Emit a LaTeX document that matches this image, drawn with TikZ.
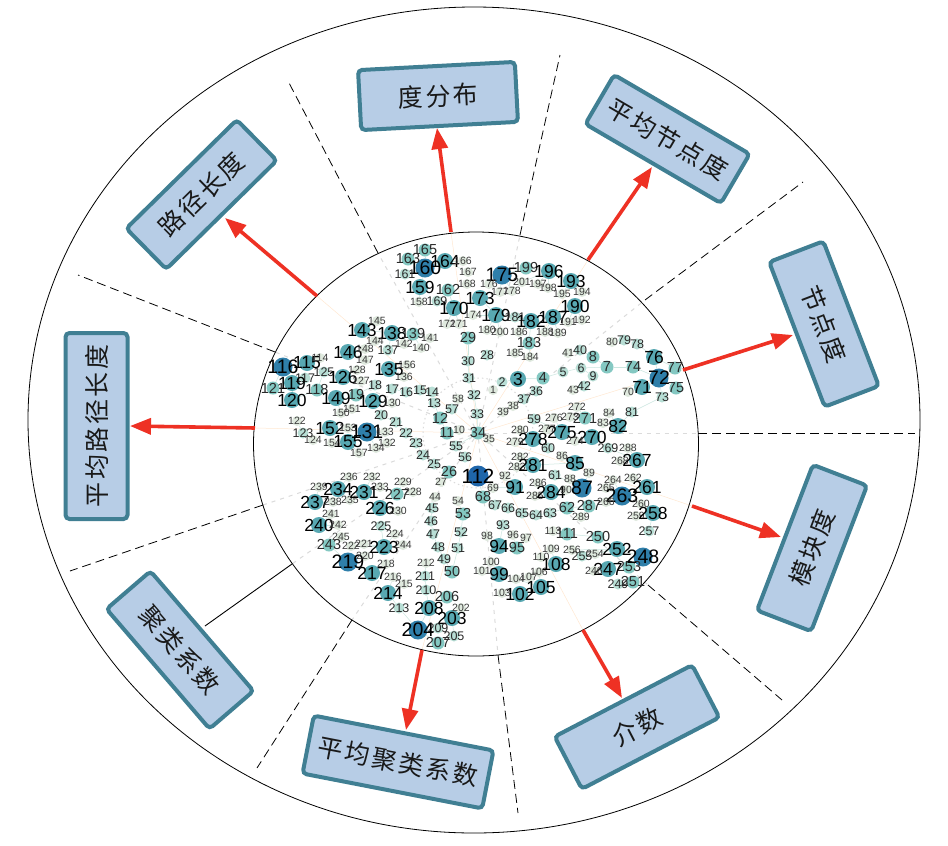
\documentclass[tikz,border=0pt]{standalone}
\usepackage{fontspec}
\setmainfont{Liberation Sans}
\newfontfamily\cjkf[LetterSpace=10]{Noto Sans CJK SC}
\usetikzlibrary{shapes.geometric,arrows.meta}
\pgfdeclarelayer{bgl}\pgfsetlayers{bgl,main}
\definecolor{boxfill}{HTML}{B7CDE6}
\definecolor{boxline}{HTML}{407F93}
\definecolor{redarrow}{HTML}{EE3124}
\definecolor{cA}{HTML}{DFE9DE}
\definecolor{cB}{HTML}{B8DED5}
\definecolor{cC}{HTML}{84C8C2}
\definecolor{cD}{HTML}{58A8B2}
\definecolor{cE}{HTML}{2F7FAA}
\definecolor{cF}{HTML}{1F66AA}
\definecolor{tA}{HTML}{3A3A3A}
\definecolor{tB}{HTML}{2A2A2A}
\tikzset{
 cirA/.style={circle,inner sep=0,minimum size=10pt,fill=cA},
 cirB/.style={circle,inner sep=0,minimum size=11pt,fill=cB},
 cirC/.style={circle,inner sep=0,minimum size=13pt,fill=cC},
 cirD/.style={circle,inner sep=0,minimum size=16pt,fill=cD},
 cirE/.style={circle,inner sep=0,minimum size=19pt,fill=cE},
 cirF/.style={circle,inner sep=0,minimum size=21pt,fill=cF},
 txtA/.style={inner sep=0,text=tA,font=\fontsize{10.5}{11}\selectfont},
 txtB/.style={inner sep=0,text=tB,font=\fontsize{12.5}{13}\selectfont},
 txtC/.style={inner sep=0,text=tB,font=\fontsize{14.5}{15}\selectfont},
 txtD/.style={inner sep=0,text=black,font=\fontsize{17.5}{18}\selectfont},
 txtE/.style={inner sep=0,text=black,font=\fontsize{19.5}{20}\selectfont},
 txtF/.style={inner sep=0,text=black,font=\fontsize{20.5}{21}\selectfont},
 mbox/.style={draw=boxline,fill=boxfill,line width=4pt,rounded corners=4pt,inner sep=0,font=\cjkf\fontsize{25}{26}\selectfont,text=black!90},
 ring/.style={ellipse,draw=black,line width=0.8pt,inner sep=0},
 sep/.style={draw=black,line width=0.8pt,dash pattern=on 9pt off 5pt},
 rarr/.style={draw=redarrow,line width=3.6pt,-{Triangle[length=21pt,width=16pt]},redarrow},
 lnk/.style={draw=cB!75!white,line width=0.5pt},
 faintdash/.style={draw=black!14,line width=1pt,dash pattern=on 4pt off 5pt},
 faintor/.style={draw=orange!18,line width=0.5pt},
 faintdot/.style={draw=black!14,line width=1pt,dash pattern=on 1.5pt off 3pt},
}
\newcommand{\allnodes}{%
\gnode{165}{425}{250}{C}\gnode{163}{408}{259}{C}\gnode{160}{425}{268}{E}\gnode{164}{445}{261}{D}\gnode{166}{463}{261}{A}
\gnode{161}{405}{274}{B}\gnode{167}{468}{272}{A}\gnode{168}{467}{284}{A}\gnode{159}{420}{287}{D}\gnode{162}{448}{290}{C}
\gnode{158}{419}{302}{A}\gnode{169}{437}{301}{B}\gnode{170}{454}{308}{D}\gnode{173}{480}{298}{D}\gnode{174}{473}{315}{A}
\gnode{172}{447}{324}{A}\gnode{171}{459}{324}{A}\gnode{29}{468}{338}{C}\gnode{145}{377}{321}{A}\gnode{143}{362}{330}{D}
\gnode{138}{392}{333}{D}\gnode{139}{413}{334}{C}\gnode{141}{430}{338}{A}\gnode{144}{375}{341}{A}\gnode{142}{404}{344}{A}
\gnode{137}{388}{350}{B}\gnode{140}{421}{348}{A}\gnode{146}{348}{352}{D}\gnode{148}{365}{349}{A}\gnode{147}{365}{360}{A}
\gnode{116}{283}{367}{E}\gnode{115}{307}{363}{D}\gnode{114}{320}{358}{A}\gnode{125}{324}{372}{B}\gnode{117}{305}{378}{B}
\gnode{119}{292}{383}{D}\gnode{121}{273}{388}{C}\gnode{118}{317}{390}{C}\gnode{120}{292}{400}{D}\gnode{126}{343}{377}{D}
\gnode{128}{357}{370}{A}\gnode{127}{361}{381}{A}\gnode{135}{389}{369}{D}\gnode{156}{407}{365}{A}\gnode{136}{404}{377}{A}
\gnode{149}{336}{398}{D}\gnode{19}{356}{395}{C}\gnode{129}{373}{401}{D}\gnode{18}{375}{385}{B}\gnode{17}{392}{389}{B}
\gnode{16}{406}{392}{B}\gnode{15}{420}{390}{B}\gnode{14}{432}{392}{B}\gnode{130}{392}{403}{A}\gnode{20}{381}{415}{B}
\gnode{13}{434}{403}{B}\gnode{58}{458}{399}{A}\gnode{57}{452}{409}{B}\gnode{12}{440}{418}{C}\gnode{122}{297}{421}{A}
\gnode{123}{303}{433}{B}\gnode{124}{313}{440}{A}\gnode{151}{352}{409}{A}\gnode{150}{341}{413}{A}\gnode{21}{396}{422}{B}
\gnode{22}{406}{433}{B}\gnode{152}{330}{428}{D}\gnode{153}{348}{428}{A}\gnode{131}{367}{432}{E}\gnode{133}{385}{432}{A}
\gnode{132}{387}{443}{A}\gnode{11}{447}{433}{C}\gnode{10}{459}{430}{A}\gnode{23}{416}{443}{B}\gnode{154}{332}{443}{A}
\gnode{155}{348}{442}{D}\gnode{157}{359}{453}{A}\gnode{134}{376}{448}{A}\gnode{24}{423}{455}{B}\gnode{25}{434}{464}{B}
\gnode{26}{449}{472}{C}\gnode{27}{441}{482}{A}\gnode{55}{456}{446}{B}\gnode{56}{465}{457}{B}\gnode{34}{478}{433}{C}
\gnode{33}{477}{414}{B}\gnode{32}{474}{395}{B}\gnode{31}{469}{378}{B}\gnode{30}{468}{361}{B}\gnode{35}{489}{439}{A}
\gnode{1}{493}{390}{A}\gnode{2}{502}{382}{B}\gnode{3}{518}{379}{D}\gnode{4}{543}{378}{C}\gnode{5}{563}{372}{B}
\gnode{6}{581}{368}{B}\gnode{7}{607}{367}{C}\gnode{8}{593}{357}{C}\gnode{9}{593}{376}{B}\gnode{41}{568}{353}{A}
\gnode{40}{580}{350}{B}\gnode{43}{573}{390}{A}\gnode{42}{584}{386}{B}\gnode{28}{487}{355}{B}\gnode{36}{536}{391}{B}
\gnode{37}{524}{399}{B}\gnode{38}{513}{406}{A}\gnode{39}{503}{412}{A}\gnode{59}{534}{419}{B}\gnode{276}{554}{418}{A}
\gnode{273}{570}{417}{A}\gnode{271}{585}{418}{C}\gnode{272}{577}{407}{A}\gnode{84}{609}{413}{A}\gnode{83}{603}{423}{A}
\gnode{82}{618}{426}{D}\gnode{81}{632}{412}{B}\gnode{70}{628}{392}{A}\gnode{71}{642}{387}{D}\gnode{72}{659}{378}{E}
\gnode{73}{662}{397}{B}\gnode{74}{633}{367}{C}\gnode{75}{676}{388}{C}\gnode{76}{654}{357}{D}\gnode{77}{675}{368}{C}
\gnode{78}{637}{344}{B}\gnode{79}{624}{340}{B}\gnode{80}{612}{342}{A}\gnode{175}{502}{275}{E}\gnode{176}{489}{284}{A}
\gnode{177}{500}{292}{A}\gnode{178}{512}{291}{A}\gnode{199}{526}{268}{C}\gnode{196}{549}{271}{D}\gnode{201}{522}{282}{A}
\gnode{197}{538}{284}{A}\gnode{198}{548}{288}{A}\gnode{193}{571}{281}{D}\gnode{195}{562}{294}{A}\gnode{194}{582}{292}{A}
\gnode{190}{575}{306}{D}\gnode{179}{496}{315}{D}\gnode{181}{515}{317}{B}\gnode{182}{531}{321}{D}\gnode{187}{553}{317}{D}
\gnode{191}{568}{322}{A}\gnode{192}{582}{320}{A}\gnode{180}{487}{330}{A}\gnode{200}{500}{332}{A}\gnode{186}{519}{332}{A}
\gnode{188}{545}{332}{A}\gnode{189}{558}{333}{A}\gnode{183}{529}{343}{C}\gnode{185}{515}{353}{A}\gnode{184}{530}{357}{A}
\gnode{275}{562}{432}{D}\gnode{277}{547}{429}{A}\gnode{278}{533}{439}{D}\gnode{279}{515}{442}{A}\gnode{280}{520}{430}{A}
\gnode{270}{592}{437}{D}\gnode{274}{575}{441}{A}\gnode{60}{548}{448}{B}\gnode{282}{520}{457}{A}\gnode{283}{517}{467}{A}
\gnode{281}{533}{465}{D}\gnode{86}{562}{456}{A}\gnode{85}{575}{463}{D}\gnode{61}{555}{475}{B}\gnode{88}{570}{479}{A}
\gnode{89}{589}{473}{A}\gnode{92}{505}{476}{A}\gnode{91}{515}{487}{D}\gnode{286}{538}{483}{A}\gnode{285}{535}{496}{A}
\gnode{284}{551}{492}{D}\gnode{90}{566}{490}{A}\gnode{87}{582}{488}{E}\gnode{69}{493}{488}{A}\gnode{112}{478}{476}{F}
\gnode{68}{483}{497}{C}\gnode{67}{495}{505}{B}\gnode{66}{508}{508}{B}\gnode{65}{522}{513}{B}\gnode{64}{536}{515}{B}
\gnode{63}{550}{513}{B}\gnode{62}{567}{508}{C}\gnode{287}{589}{506}{C}\gnode{289}{581}{517}{A}\gnode{288}{628}{448}{A}
\gnode{269}{608}{448}{B}\gnode{268}{620}{461}{A}\gnode{267}{637}{460}{D}\gnode{264}{613}{480}{A}\gnode{262}{633}{478}{A}
\gnode{265}{606}{488}{A}\gnode{261}{647}{487}{D}\gnode{263}{622}{496}{E}\gnode{266}{606}{502}{A}\gnode{260}{641}{504}{A}
\gnode{259}{636}{516}{A}\gnode{258}{653}{513}{D}\gnode{257}{649}{531}{B}\gnode{44}{435}{497}{A}\gnode{54}{458}{501}{A}
\gnode{45}{432}{508}{B}\gnode{53}{463}{514}{C}\gnode{46}{431}{521}{B}\gnode{47}{433}{534}{B}\gnode{52}{461}{532}{B}
\gnode{48}{438}{547}{B}\gnode{51}{458}{548}{B}\gnode{49}{444}{559}{B}\gnode{50}{452}{572}{C}\gnode{212}{426}{563}{A}
\gnode{211}{425}{576}{B}\gnode{210}{426}{590}{B}\gnode{206}{447}{597}{C}\gnode{208}{429}{608}{D}\gnode{202}{461}{608}{A}
\gnode{203}{452}{618}{D}\gnode{209}{438}{628}{B}\gnode{204}{418}{630}{E}\gnode{205}{454}{636}{B}\gnode{207}{438}{643}{C}
\gnode{213}{399}{608}{B}\gnode{214}{388}{593}{D}\gnode{215}{404}{584}{A}\gnode{216}{393}{577}{A}\gnode{217}{372}{573}{D}
\gnode{218}{386}{564}{A}\gnode{219}{348}{562}{E}\gnode{220}{365}{556}{A}\gnode{221}{364}{544}{A}\gnode{222}{351}{546}{A}
\gnode{223}{384}{547}{D}\gnode{224}{395}{534}{A}\gnode{225}{381}{526}{B}\gnode{244}{403}{545}{A}\gnode{243}{329}{545}{C}
\gnode{245}{341}{537}{A}\gnode{240}{319}{525}{D}\gnode{241}{331}{514}{A}\gnode{242}{338}{525}{A}\gnode{237}{315}{502}{D}
\gnode{239}{319}{487}{A}\gnode{238}{333}{502}{A}\gnode{236}{349}{477}{A}\gnode{234}{338}{489}{D}\gnode{235}{350}{500}{A}
\gnode{232}{372}{477}{A}\gnode{233}{380}{487}{A}\gnode{231}{364}{492}{D}\gnode{229}{403}{482}{A}\gnode{227}{397}{494}{C}
\gnode{228}{413}{492}{A}\gnode{226}{380}{508}{D}\gnode{230}{398}{511}{A}\gnode{93}{503}{525}{B}\gnode{98}{487}{536}{A}
\gnode{96}{513}{535}{A}\gnode{97}{526}{538}{A}\gnode{94}{499}{546}{D}\gnode{95}{517}{548}{C}\gnode{100}{491}{562}{A}
\gnode{101}{482}{571}{A}\gnode{99}{499}{574}{D}\gnode{104}{516}{579}{A}\gnode{107}{529}{577}{A}\gnode{106}{539}{572}{A}
\gnode{105}{541}{587}{D}\gnode{102}{520}{594}{D}\gnode{103}{502}{593}{A}\gnode{108}{556}{564}{D}\gnode{109}{551}{549}{A}
\gnode{110}{541}{557}{A}\gnode{113}{553}{531}{A}\gnode{111}{567}{534}{C}\gnode{250}{598}{537}{C}\gnode{256}{572}{550}{A}
\gnode{255}{582}{556}{B}\gnode{254}{595}{554}{A}\gnode{252}{617}{549}{D}\gnode{253}{629}{567}{C}\gnode{247}{608}{569}{D}
\gnode{246}{594}{571}{A}\gnode{248}{643}{557}{E}\gnode{251}{633}{582}{C}\gnode{249}{618}{584}{B}%
}
\begin{document}
\begin{tikzpicture}[x=1pt,y=-1pt]
\useasboundingbox (0,0) rectangle (948,846);
\node[ring,minimum width=892pt,minimum height=826pt] (outer) at (474,420) {};
\node[ring,minimum width=445pt,minimum height=424pt] (inner) at (476,444) {};
% separators
\coordinate (s1a) at (378,253);\coordinate (s1b) at (288,81);
\coordinate (s2a) at (520,235);\coordinate (s2b) at (560,55);
\coordinate (s3a) at (645,300);\coordinate (s3b) at (803,182);
\coordinate (s4a) at (698,433);\coordinate (s4b) at (915,433);
\coordinate (s5a) at (648,585);\coordinate (s5b) at (782,700);
\coordinate (s6a) at (498,655);\coordinate (s6b) at (518,813);
\coordinate (s7a) at (352,620);\coordinate (s7b) at (257,768);
\coordinate (s8a) at (263,505);\coordinate (s8b) at (70,571);
\coordinate (s9a) at (275,352);\coordinate (s9b) at (78,275);
\coordinate (s10a) at (292,564);\coordinate (s10b) at (205,626);
\foreach \i in {1,...,9}{\path[sep] (s\i a) -- (s\i b);}
% boxes
\node[mbox,rotate=3,minimum width=157pt,minimum height=60pt] (bdeg) at (438,96) {度分布};
\node[mbox,rotate=44.5,minimum width=155pt,minimum height=57pt] (bpath) at (201.5,194.5) {路径长度};
\node[mbox,rotate=-30.3,minimum width=157pt,minimum height=57pt] (bavgd) at (667.5,139) {平均节点度};
\node[mbox,rotate=-69,minimum width=155pt,minimum height=58pt] (bnode) at (824,324) {节点度};
\node[mbox,rotate=69,minimum width=156pt,minimum height=58pt] (bmod) at (812,548) {模块度};
\node[mbox,rotate=27.5,minimum width=155pt,minimum height=59pt] (bnum) at (637,727) {介数};
\node[mbox,rotate=-11,minimum width=183pt,minimum height=59pt] (bavgc) at (398,762) {平均聚类系数};
\node[mbox,rotate=-49.3,minimum width=158pt,minimum height=58pt] (bclu) at (180,650) {聚类系数};
\node[mbox,rotate=90,minimum width=186pt,minimum height=62pt] (bavgp) at (96.5,426) {平均路径长度};
\path[draw=black,line width=0.9pt] (s10a) -- (s10b);
% arrows
\coordinate (a1) at (317,296);\coordinate (e1) at (225,218);
\coordinate (a2) at (451,232);\coordinate (e2) at (437,128);
\coordinate (a3) at (588,260);\coordinate (e3) at (652,167);
\coordinate (a4) at (683,370);\coordinate (e4) at (793,335);
\coordinate (a5) at (692,506);\coordinate (e5) at (781,537);
\coordinate (a6) at (583,630);\coordinate (e6) at (622,698);
\coordinate (a7) at (422,650);\coordinate (e7) at (406,730);
\coordinate (a8) at (255,428);\coordinate (e8) at (130,426);
\foreach \i in {1,...,8}{\path[rarr] (a\i) -- (e\i);}
% graph node discs, then labels above all discs
\newcommand{\gnode}[4]{\node[cir#4] (n#1) at (#2,#3) {};}
\allnodes
\renewcommand{\gnode}[4]{\node[txt#4] (t#1) at (#2,#3) {#1};}
\allnodes
% faint background guides and links
\begin{pgfonlayer}{bgl}
\fill[white] (0,0) rectangle (948,846);
\foreach \i in {1,...,9}{\path[faintdash] (n34) -- (s\i a);}
\foreach \i in {1,...,8}{\path[faintor] (n34) -- (a\i);}
\path[faintdash] (n34) -- (s10a);
\path[faintdot] (n34) circle (55pt);
\foreach \a/\b in {160/165,160/163,160/164,160/161,160/159,159/158,162/170,169/170,170/171,170/172,164/166,164/167,
143/145,143/144,143/138,138/137,138/139,139/140,139/141,139/142,146/148,146/147,116/115,115/114,116/119,116/121,119/117,119/120,120/118,118/125,
126/128,126/127,135/156,135/136,149/150,149/151,129/130,129/19,19/18,17/16,16/15,15/14,14/13,13/12,12/57,57/58,12/11,11/10,122/123,123/124,
20/21,21/22,22/23,23/24,24/25,25/26,26/27,131/133,131/132,131/134,152/153,155/154,155/157,
29/30,30/31,31/32,32/33,33/34,34/35,34/55,55/56,2/3,3/4,4/5,5/6,6/7,7/8,6/9,8/40,40/41,42/43,36/37,37/38,38/39,
271/272,271/273,275/276,275/277,275/59,278/279,278/280,278/60,270/274,82/83,82/84,82/81,81/73,70/71,71/72,72/73,72/74,72/75,72/76,76/77,76/78,78/79,79/80,74/7,
175/176,175/177,175/178,199/175,196/199,196/197,196/198,196/201,196/193,193/194,193/195,190/191,190/192,179/180,179/200,179/174,179/173,182/181,182/183,182/186,187/188,187/189,187/190,183/184,183/185,
281/282,281/283,85/86,85/281,284/285,284/286,87/88,87/89,87/90,87/61,91/92,91/69,112/68,68/67,67/66,66/65,65/64,64/63,63/62,62/287,287/289,
267/268,267/269,267/288,263/264,263/265,263/266,261/262,261/263,258/259,258/260,258/257,44/45,45/46,46/47,47/48,48/49,49/50,54/53,53/52,52/51,51/50,
212/211,211/210,210/208,208/206,208/204,203/202,203/205,203/209,204/207,204/213,213/214,214/215,214/216,217/218,217/219,219/220,219/243,243/245,223/221,223/222,223/224,223/225,223/244,
240/241,240/242,237/239,237/238,234/236,234/235,231/232,231/233,227/228,227/229,226/230,93/94,94/98,95/96,95/97,99/100,99/101,105/104,105/106,105/107,102/103,108/109,108/110,111/113,111/250,
252/254,252/255,252/256,248/252,248/253,247/246,253/251,251/249}{
 \path[lnk] (n\a) -- (n\b);
}
\end{pgfonlayer}
\end{tikzpicture}
\end{document}
